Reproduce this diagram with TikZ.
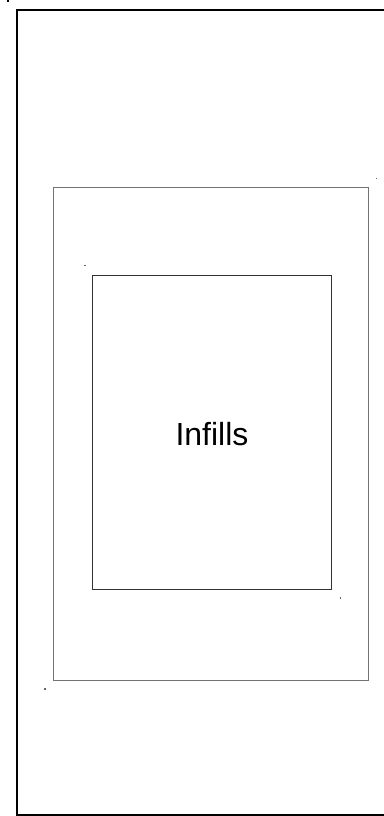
\documentclass[tikz,border=0pt]{standalone}
\usepackage{fontspec}
\setmainfont{Liberation Sans}
\begin{document}
\begin{tikzpicture}[x=1pt,y=-1pt,
  outerbox/.style={draw=black,line width=2pt},
  midbox/.style={draw=black!55,line width=1pt},
  innerbox/.style={draw=black!80,line width=1pt},
  speck/.style={fill=black!60,draw=none}]
\useasboundingbox (0,0) rectangle (383,816);
\draw[outerbox] (390,10) -- (17,10) -- (17,815) -- (390,815);
\draw[midbox] (53,187) rectangle (368,680);
\node[innerbox,minimum width=238.5pt,minimum height=314pt,inner sep=0pt] (infills) at (211.75,432) {};
\node[font=\fontsize{32}{38}\selectfont,anchor=base,inner sep=0pt] (label) at (212,445) {Infills};
\fill[black] (7,0) rectangle (9,2);
\fill[speck] (375.5,177.5) rectangle (377,179);
\fill[speck] (84,264.5) rectangle (85.5,266);
\fill[speck] (339.5,597) rectangle (341,598.5);
\fill[speck] (44,688) rectangle (45.5,689.5);
\end{tikzpicture}
\end{document}
